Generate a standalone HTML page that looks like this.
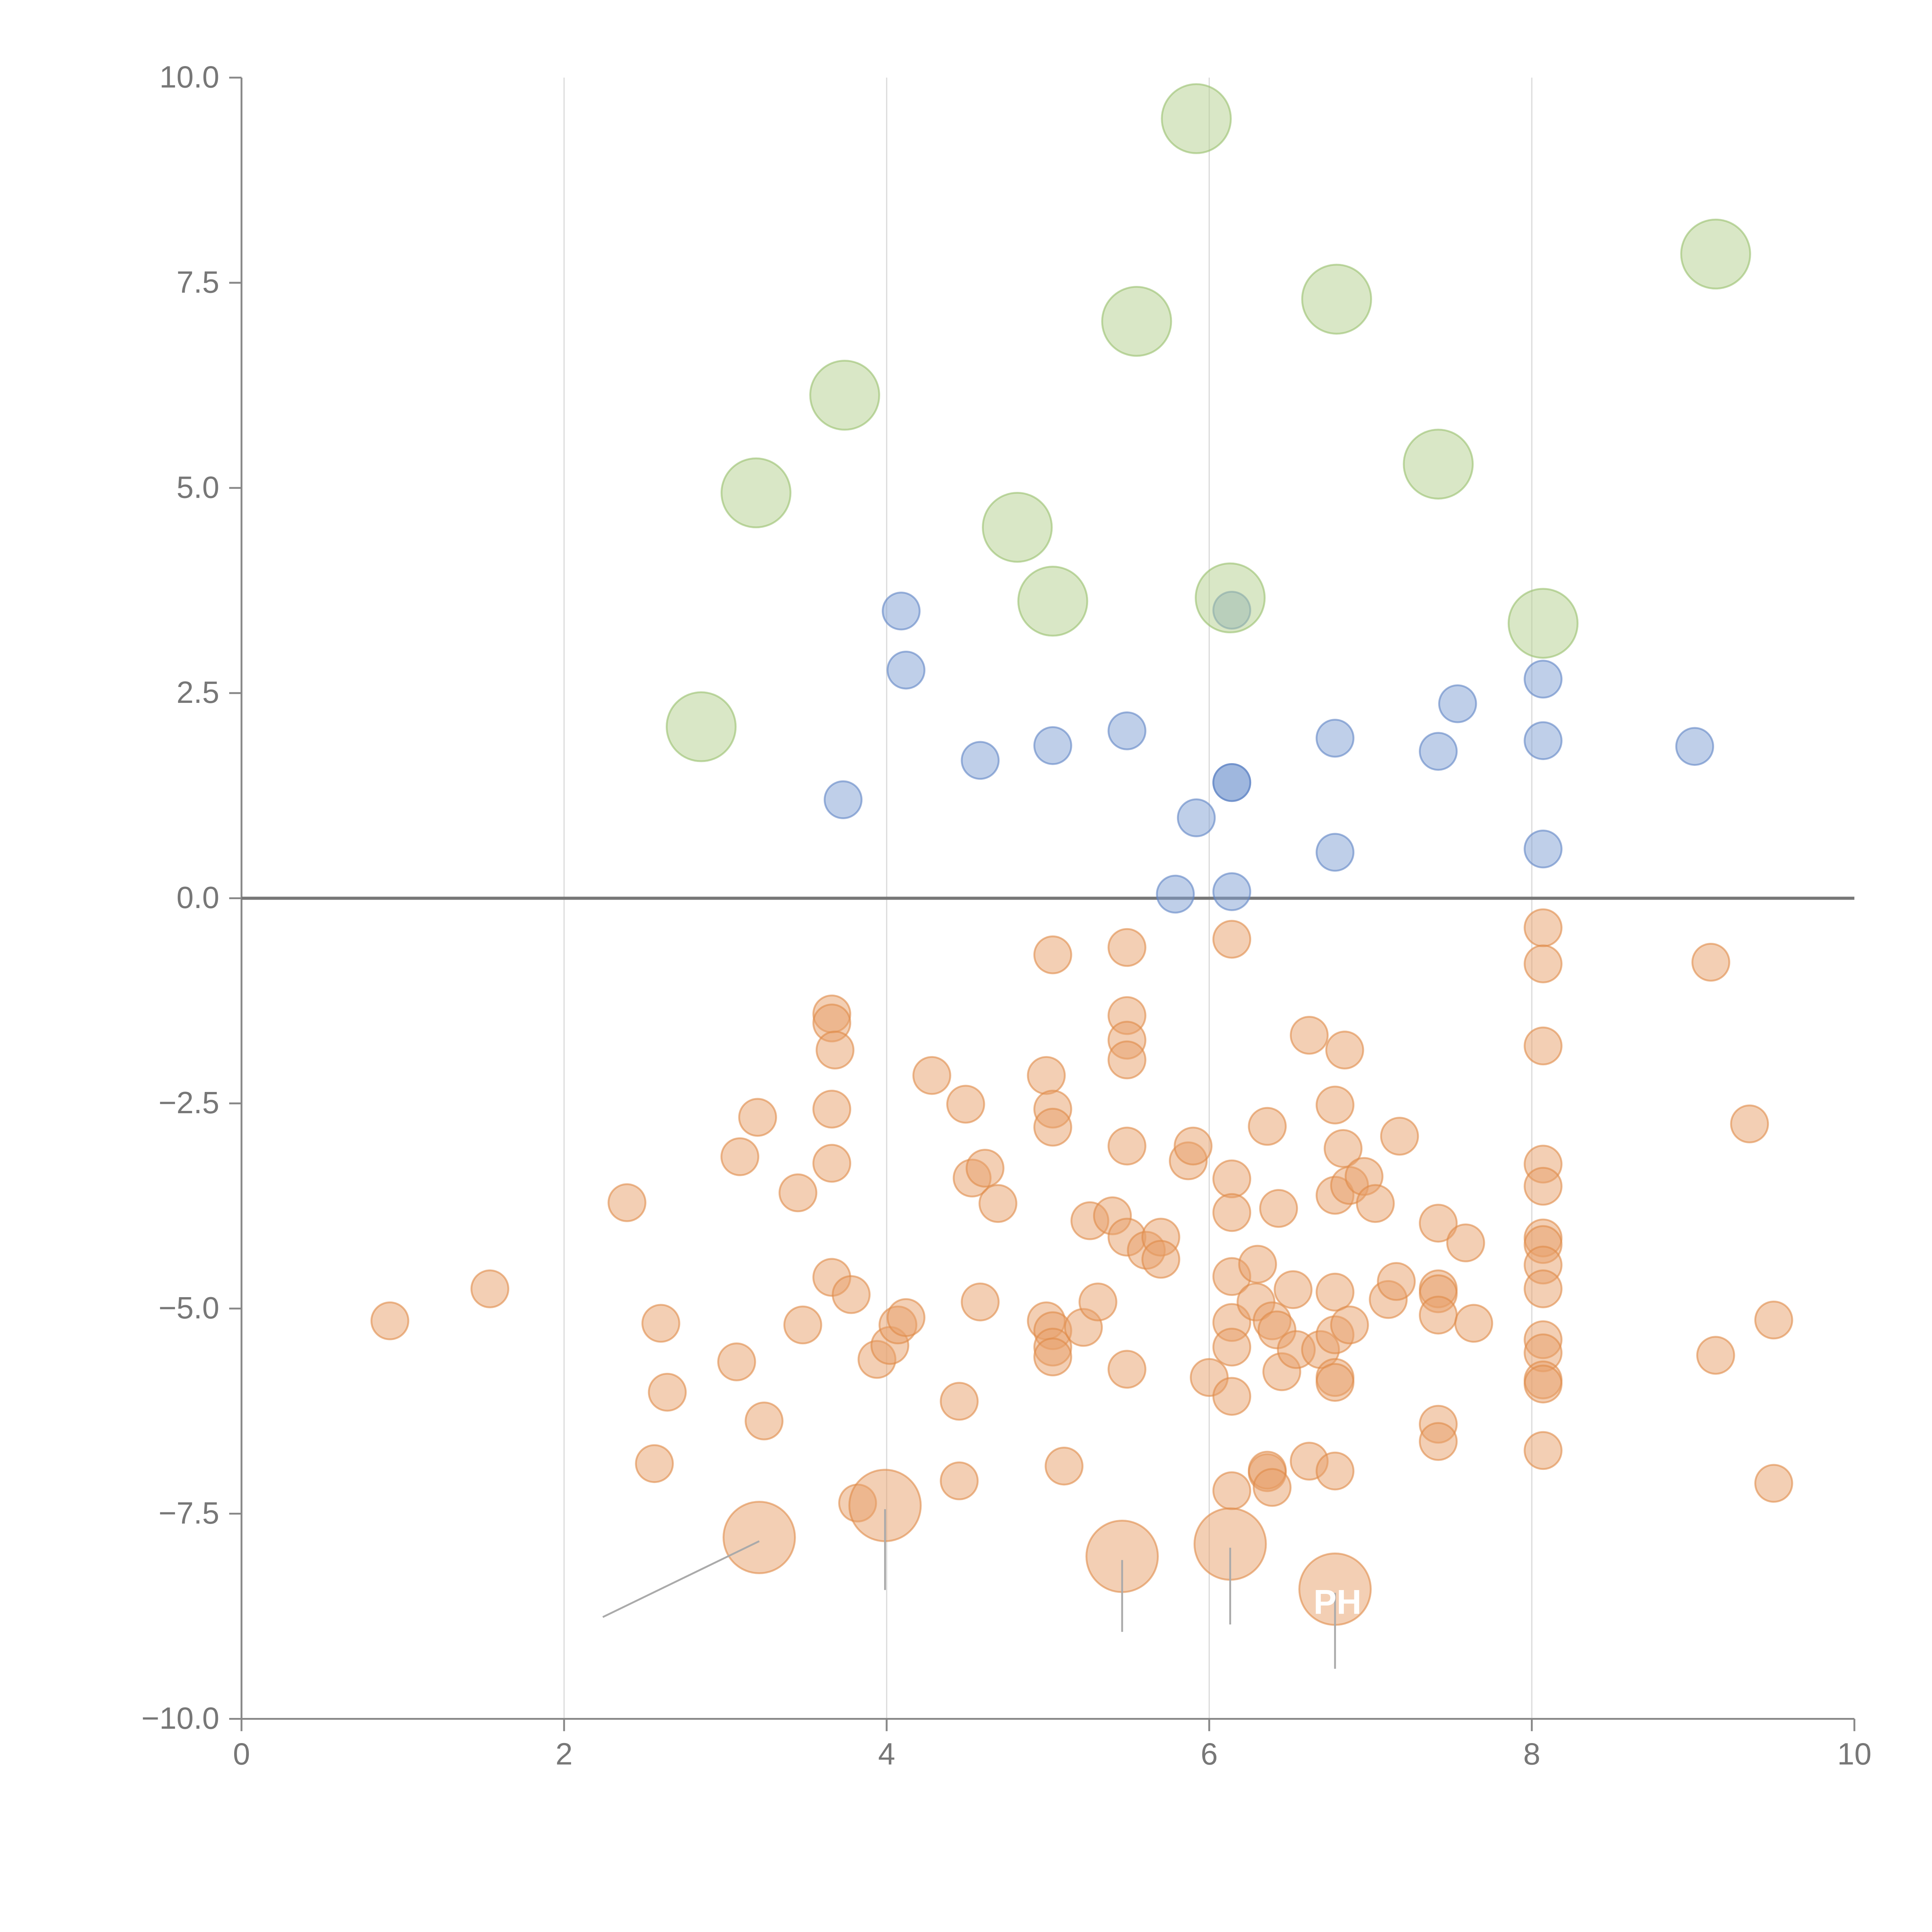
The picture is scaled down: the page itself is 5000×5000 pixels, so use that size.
<!DOCTYPE html>
<html><head><meta charset="utf-8"><style>html,body{margin:0;padding:0;background:#fff}svg{display:block}</style></head>
<body>
<svg id="chart" width="5000" height="5000" viewBox="0 0 1568 1568" xmlns="http://www.w3.org/2000/svg" font-family="Liberation Sans, sans-serif">
<g id="grid"></g>
<g id="axes"></g>
<g id="marks"></g>
</svg>
<script>
const xTicks = [0, 2, 4, 6, 8, 10];
const xTickLabels = ["0", "2", "4", "6", "8", "10"];
const yTicks = [10, 7.5, 5, 2.5, 0, -2.5, -5, -7.5, -10];
const yTickLabels = ["10.0", "7.5", "5.0", "2.5", "0.0", "\u22122.5", "\u22125.0", "\u22127.5", "\u221210.0"];
const greenX = [5.92, 9.14, 6.79, 5.55, 3.74, 7.42, 3.19, 4.81, 5.03, 6.13, 8.07, 2.85];
const greenY = [9.5, 7.85, 7.3, 7.03, 6.13, 5.29, 4.94, 4.52, 3.62, 3.66, 3.35, 2.09];
const blueX = [4.09, 4.12, 3.73, 4.58, 5.03, 5.49, 6.14, 6.14, 6.14, 5.92, 5.79, 6.14, 6.78, 6.78, 7.42, 7.54, 8.07, 8.07, 8.07, 9.01];
const blueY = [3.5, 2.78, 1.2, 1.68, 1.86, 2.04, 3.51, 1.41, 1.41, 0.98, 0.05, 0.08, 1.95, 0.56, 1.79, 2.37, 2.67, 1.92, 0.6, 1.85];
const orangeX = [0.92,1.54,2.39,2.6,2.56,2.64,3.07,3.09,3.2,3.24,3.45,3.48,3.66,3.66,3.68,3.66,3.66,3.66,3.78,3.82,3.94,4.02,4.07,4.12,4.28,4.45,4.45,4.49,4.53,4.61,4.58,4.69,4.99,5.03,5.03,5.03,4.99,5.03,5.03,5.03,5.1,5.22,5.26,5.31,5.4,5.49,5.49,5.49,5.49,5.49,5.49,5.49,5.61,5.7,5.7,5.87,5.9,6.0,6.14,6.14,6.14,6.14,6.14,6.14,6.14,6.14,6.29,6.3,6.36,6.36,6.36,6.39,6.39,6.42,6.43,6.45,6.52,6.54,6.62,6.62,6.69,6.78,6.78,6.78,6.78,6.78,6.78,6.78,6.83,6.84,6.87,6.87,6.96,7.03,7.11,7.16,7.18,7.42,7.42,7.42,7.42,7.42,7.42,7.59,7.64,8.07,8.07,8.07,8.07,8.07,8.07,8.07,8.07,8.07,8.07,8.07,8.07,8.07,8.07,9.11,9.14,9.35,9.5,9.5];
const orangeY = [-5.15,-4.76,-3.71,-5.18,-6.89,-6.02,-5.65,-3.15,-2.67,-6.37,-3.59,-5.2,-1.41,-1.52,-1.85,-2.57,-3.23,-4.62,-4.83,-7.37,-5.62,-5.45,-5.2,-5.11,-2.16,-6.13,-7.1,-2.51,-3.41,-3.29,-4.92,-3.72,-2.16,-0.69,-2.57,-2.79,-5.15,-5.27,-5.47,-5.59,-6.92,-5.23,-3.93,-4.92,-3.87,-0.6,-1.43,-1.73,-1.97,-3.02,-4.13,-5.74,-4.29,-4.13,-4.4,-3.2,-3.02,-5.84,-0.5,-3.42,-3.83,-4.61,-5.17,-5.47,-6.07,-7.22,-4.92,-4.46,-2.78,-7.0,-6.97,-7.18,-5.15,-5.26,-3.78,-5.77,-4.77,-5.5,-1.67,-6.86,-5.5,-2.52,-3.62,-4.8,-5.32,-5.84,-5.9,-6.98,-3.05,-1.85,-3.5,-5.2,-3.39,-3.72,-4.89,-4.67,-2.9,-3.96,-4.76,-4.82,-5.08,-6.41,-6.62,-4.2,-5.18,-0.36,-0.8,-1.8,-3.24,-3.51,-4.14,-4.22,-4.47,-4.76,-5.38,-5.54,-5.87,-5.92,-6.73,-0.78,-5.57,-2.75,-5.14,-7.13];
const bigX = [3.21, 3.99, 5.46, 6.13, 6.78];
const bigY = [-7.79, -7.4, -8.02, -7.87, -8.42];
const leaderEndX = [2.24, 3.99, 5.46, 6.13, 6.78];
const leaderEndY = [-8.76, -8.43, -8.94, -8.85, -9.39];

const NS = "http://www.w3.org/2000/svg";
const X0 = 196, X1 = 1505, YT = 63, YB = 1395;
function sx(v){ return X0 + (v - 0) / 10 * (X1 - X0); }
function sy(v){ return YB - (v + 10) / 20 * (YB - YT); }
function mk(tag, attrs, parent){
  const e = document.createElementNS(NS, tag);
  for (const k in attrs) e.setAttribute(k, attrs[k]);
  parent.appendChild(e);
  return e;
}
const grid = document.getElementById('grid'), axes = document.getElementById('axes'), marks = document.getElementById('marks');

xTicks.forEach((t, i) => {
  if (t > 0 && t < 10) {
    const g = mk('line', {x1: sx(t), x2: sx(t), y1: YT, y2: YB, stroke: '#dcdcdc', 'stroke-width': 1}, grid);
    
    
  }
  const tk = mk('line', {x1: sx(t), x2: sx(t), y1: YB, y2: YB + 10, stroke: '#888', 'stroke-width': 1.5}, axes);
  
  
  const lb = mk('text', {x: sx(t), y: YB + 37, 'text-anchor': 'middle', 'font-size': 25, fill: '#777'}, axes);
  lb.textContent = xTickLabels[i];
  
  
});
yTicks.forEach((t, i) => {
  const tk = mk('line', {x1: X0 - 10, x2: X0, y1: sy(t), y2: sy(t), stroke: '#888', 'stroke-width': 1.5}, axes);
  
  
  const lb = mk('text', {x: X0 - 18, y: sy(t) + 8, 'text-anchor': 'end', 'font-size': 25, fill: '#777'}, axes);
  lb.textContent = yTickLabels[i];
  
  
});
const ya = mk('line', {x1: X0, x2: X0, y1: YT, y2: YB, stroke: '#888', 'stroke-width': 1.5}, axes);


const xa = mk('line', {x1: X0, x2: X1, y1: YB, y2: YB, stroke: '#888', 'stroke-width': 1.5}, axes);


const zl = mk('line', {x1: X0, x2: X1, y1: sy(0), y2: sy(0), stroke: '#777', 'stroke-width': 2.5}, axes);



function dots(xs, ys, r, fill, stroke, name){
  xs.forEach((x, i) => {
    const c = mk('circle', {cx: sx(x), cy: sy(ys[i]), r: r, fill: fill, 'fill-opacity': 0.5, stroke: stroke, 'stroke-opacity': 0.6, 'stroke-width': 1.5}, marks);
    
    
  });
}
dots(orangeX, orangeY, 15, '#e8a06a', '#e08a48', 'orange-point');
dots(blueX, blueY, 15, '#7f9fd3', '#5f84c4', 'blue-point');
dots(greenX, greenY, 28, '#b4d08e', '#98bf6c', 'green-bubble');
dots(bigX, bigY, 29, '#e8a06a', '#e08a48', 'orange-bubble');

bigX.forEach((x, i) => {
  const l = mk('line', {x1: sx(x), y1: sy(bigY[i]) + 3, x2: sx(leaderEndX[i]), y2: sy(leaderEndY[i]), stroke: '#aaa', 'stroke-width': 1.5}, marks);
  
  
});
const ph = mk('text', {x: sx(6.78) + 2, y: sy(-8.42) + 20, 'text-anchor': 'middle', 'font-size': 28, fill: '#fff', 'font-weight': 'bold'}, marks);
ph.textContent = 'PH';


</script>
</body></html>
